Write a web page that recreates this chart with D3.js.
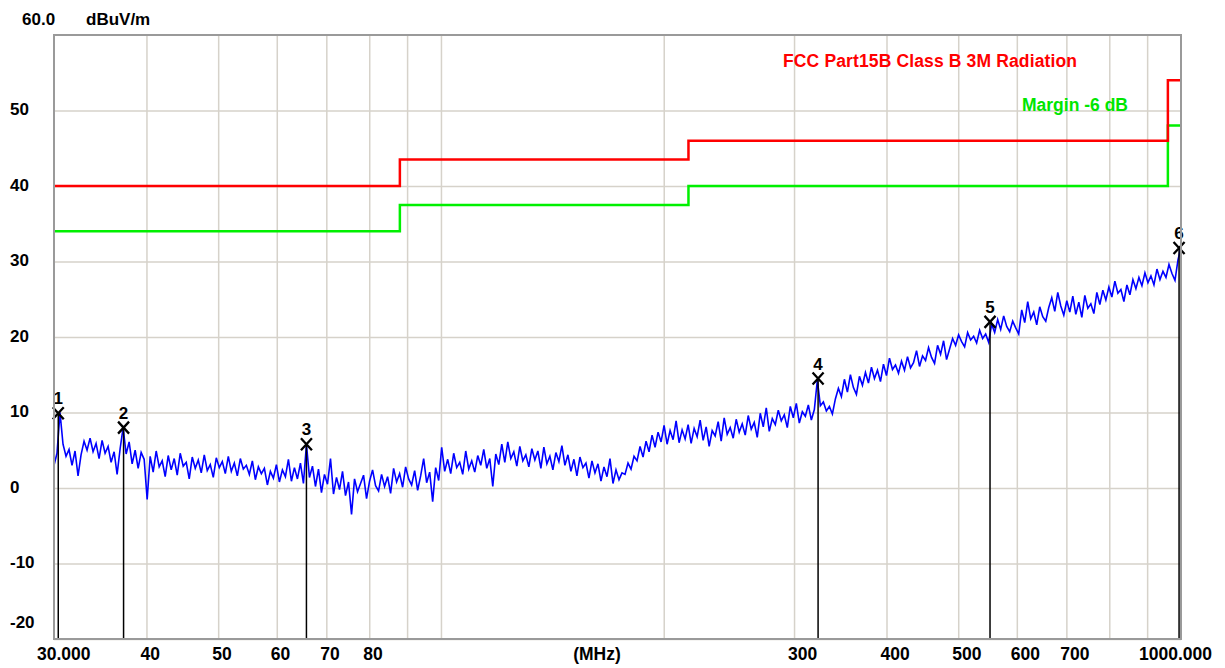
<!DOCTYPE html>
<html>
<head>
<meta charset="utf-8">
<script src="https://cdn.jsdelivr.net/npm/d3@7"></script>
<style>
  html, body { margin: 0; padding: 0; background: #fff; }
  svg { display: block; font-family: "Liberation Sans", Arial, sans-serif; font-weight: bold; }
</style>
</head>
<body>
<script>
"use strict";

// limit lines (FCC Part15B class B, 3 m) - steps start at these frequencies
const limitFreqs = [30, 88, 216, 960, 1000];
const limitLevels = [40, 43.5, 46, 54, 54];
const marginDb = -6;

// y axis ticks
const yTicks = [50, 40, 30, 20, 10, 0, -10, -20];

// x axis grid and labels
const xGrid = [40, 50, 60, 70, 80, 90, 100, 200, 300, 400, 500, 600, 700, 800, 900];
const xLabelValues = [30, 40, 50, 60, 70, 80, 300, 400, 500, 600, 700, 1000];
const xLabelTexts = ["30.000", "40", "50", "60", "70", "80", "300", "400", "500", "600", "700", "1000.000"];

// markers
const markerNames = ["1", "2", "3", "4", "5", "6"];
const markerFreqs = [30.4, 37.25, 65.8, 323.3, 552.0, 994.0];
const markerLevels = [9.9, 8.0, 5.8, 14.5, 22.0, 31.8];

// sweep trace, dBuV/m, points evenly spaced on the log frequency axis 30..1000 MHz
const traceLevels = [
  3.0, 4.6, 10.0, 5.8, 4.2, 5.1, 3.0, 4.9, 1.6, 4.4,
  6.2, 5.0, 6.6, 4.8, 5.9, 3.9, 6.3, 4.6, 5.5, 3.4,
  4.8, 1.8, 5.2, 8.0, 4.5, 6.1, 3.2, 5.0, 2.6, 4.7,
  3.8, -1.5, 4.2, 2.1, 4.9, 2.8, 3.6, 1.5, 4.3, 2.4,
  3.9, 1.7, 4.6, 2.9, 3.4, 1.2, 4.1, 2.6, 3.7, 2.0,
  4.4, 2.3, 3.1, 1.4, 4.0, 2.7, 3.5, 1.9, 4.2, 2.2,
  3.3, 1.6, 3.9, 2.5, 3.0, 1.8, 3.6, 1.1, 2.8, 1.9,
  2.6, 0.4, 2.2, 1.3, 3.1, 0.8, 2.4, 1.5, 3.8, 0.9,
  2.7, 1.2, 3.3, 0.6, 5.8, 1.4, 2.9, 0.2, 2.5, -0.6,
  1.8, 0.5, 3.9, -0.8, 1.4, -0.2, 2.2, -1.0, 0.8, -3.5,
  1.2, -0.5, 0.6, 1.7, -1.4, 0.9, 2.4, 0.3, -0.4, 1.8,
  0.2, 1.5, -0.7, 2.6, 0.8, 1.9, 0.1, 2.8, 1.2, 0.4,
  2.3, -0.3, 1.6, 3.9, 0.7, 2.1, -1.8, 2.7, 1.0, 5.4,
  2.2, 3.8, 1.9, 4.6, 2.7, 3.4, 1.8, 4.9, 2.5, 3.6,
  2.1, 4.3, 3.0, 5.1, 2.6, 3.9, 0.2, 4.5, 3.1, 5.8,
  3.4, 6.1, 3.9, 4.8, 2.9, 5.5, 3.6, 4.4, 2.8, 5.2,
  3.7, 4.9, 2.6, 5.4, 3.2, 4.2, 2.4, 4.7, 3.5, 5.6,
  3.0, 4.4, 2.2, 3.8, 1.6, 4.1, 2.7, 3.3, 1.3, 3.6,
  2.0, 3.2, 0.9, 2.8, 1.5, 3.9, 0.6, 2.4, 1.1, 2.0,
  1.8, 3.3, 2.5, 4.2, 3.6, 5.5, 4.1, 6.2, 4.8, 7.0,
  5.4, 7.4, 6.1, 8.3, 5.8, 7.6, 6.4, 8.9, 6.0, 7.7,
  6.5, 8.4, 5.9, 7.9, 6.8, 9.0, 6.3, 8.1, 5.5, 7.6,
  6.9, 8.8, 6.2, 9.3, 7.1, 8.0, 6.6, 9.1, 7.4, 8.5,
  7.0, 9.6, 7.8, 8.7, 6.7, 9.9, 8.1, 10.6, 7.5, 9.2,
  8.4, 10.3, 8.9, 9.7, 8.0, 10.8, 9.3, 11.2, 8.6, 10.1,
  9.5, 11.0, 9.0, 10.4, 14.3, 10.9, 11.4, 10.2, 10.8, 9.8,
  11.8, 13.2, 12.1, 14.4, 12.7, 15.0, 13.3, 12.4, 14.8, 13.6,
  15.3, 13.9, 16.0, 14.5, 15.6, 14.1, 16.4, 14.9, 17.2, 15.7,
  16.3, 15.2, 16.8, 15.6, 17.4, 15.9, 16.6, 18.2, 16.1, 17.5,
  16.9, 18.6, 17.3, 16.5, 18.9, 17.7, 19.5, 17.0, 18.4, 19.8,
  18.9, 20.3, 19.4, 18.7, 20.6, 19.6, 20.1, 19.2, 20.9, 19.8,
  20.4, 19.3, 21.7, 20.6, 22.3, 21.0, 22.8, 21.4, 20.7, 22.1,
  21.2, 20.4, 23.6, 21.9, 24.7, 22.4, 23.3, 21.6, 24.0, 22.7,
  22.1, 23.9, 25.2, 23.4, 25.9, 24.1, 22.9, 24.8, 23.3, 25.4,
  23.0, 24.6, 22.6, 25.5, 23.8, 24.4, 23.1, 25.9, 24.3, 26.2,
  24.9, 26.6, 25.3, 27.4, 25.8, 26.3, 24.7, 26.9, 25.6, 27.6,
  26.4, 27.9, 26.8, 28.5, 27.2, 28.1, 26.9, 29.0, 27.6, 28.7,
  27.9, 29.6, 28.4, 27.5, 30.2, 31.9
];

(function() {

var width = 1225,
    height = 668,
    pLeft = 54, pRight = 1181, pTop = 35, pBottom = 639;

var x = d3.scaleLog().domain([30, 1000]).range([pLeft, pRight]);
var y = d3.scaleLinear().domain([-20, 60]).range([pBottom, pTop]);

var svg = d3.select("body").append("svg")
    .attr("width", width)
    .attr("height", height);

// grid lines
svg.append("g")
    .attr("transform", "translate(0," + pBottom + ")")
    .call(d3.axisBottom(x).tickValues(xGrid).tickSize(-(pBottom - pTop)).tickFormat(""))
    .call(g => g.select(".domain").remove())
    .selectAll("line").attr("stroke", "#d6d2ca").attr("stroke-width", 1.5);

svg.append("g")
    .attr("transform", "translate(" + pLeft + ",0)")
    .call(d3.axisLeft(y).tickValues(yTicks).tickSize(-(pRight - pLeft)).tickFormat(""))
    .call(g => g.select(".domain").remove())
    .selectAll("line").attr("stroke", "#d6d2ca").attr("stroke-width", 1.5);

// y tick labels, left aligned like the original
svg.append("g").selectAll("text")
    .data(yTicks)
  .enter().append("text")
    .attr("x", 10)
    .attr("y", d => Math.min(y(d) + 4.5, 628))
    .attr("font-size", "17px")
    .attr("fill", "#000")
    .text(d => d);

// x labels
var last = xLabelValues.length - 1;
svg.append("g").selectAll("text")
    .data(xLabelValues)
  .enter().append("text")
    .attr("x", (d, i) => i === 0 ? x(d) - 17 : i === last ? x(d) + 31 : x(d) - 6)
    .attr("y", 660)
    .attr("text-anchor", (d, i) => i === last ? "end" : "start")
    .attr("font-size", "17.5px")
    .attr("fill", "#000")
    .text((d, i) => xLabelTexts[i]);

svg.append("text")
    .attr("x", 597).attr("y", 660)
    .attr("text-anchor", "middle")
    .attr("font-size", "17.5px")
    .text("(MHz)");

// top left unit labels
svg.append("text").attr("x", 22).attr("y", 25).attr("font-size", "17px").text("60.0");
svg.append("text").attr("x", 86).attr("y", 25).attr("font-size", "17px").text("dBuV/m");

// limit + margin lines
var stepLine = d3.line()
    .x(d => x(d[0]))
    .y(d => y(d[1]))
    .curve(d3.curveStepAfter);

var limitPts = limitFreqs.map((f, i) => [f, limitLevels[i]]);
var marginPts = limitFreqs.map((f, i) => [f, limitLevels[i] + marginDb]);

svg.append("path")
    .datum(marginPts)
    .attr("d", stepLine)
    .attr("fill", "none")
    .attr("stroke", "#00f000")
    .attr("stroke-width", 2.5);

svg.append("path")
    .datum(limitPts)
    .attr("d", stepLine)
    .attr("fill", "none")
    .attr("stroke", "#ff0000")
    .attr("stroke-width", 2.5);

svg.append("text")
    .attr("x", 783).attr("y", 67)
    .attr("font-size", "17.5px")
    .attr("fill", "#ff0000")
    .attr("textLength", 294)
    .text("FCC Part15B Class B 3M Radiation");

svg.append("text")
    .attr("x", 1022).attr("y", 111)
    .attr("font-size", "17.5px")
    .attr("fill", "#00e600")
    .attr("textLength", 106)
    .text("Margin -6 dB");

// measured trace
var n = traceLevels.length;
var fdom = x.domain();
var trace = traceLevels.map((v, i) => [fdom[0] * Math.pow(fdom[1] / fdom[0], i / (n - 1)), v]);

svg.append("path")
    .datum(trace)
    .attr("d", d3.line().x(d => x(d[0])).y(d => y(d[1])))
    .attr("fill", "none")
    .attr("stroke", "#0000ff")
    .attr("stroke-width", 1.6);

// markers: vertical drop line, X and number
var markers = markerFreqs.map((f, i) => ({ name: markerNames[i], f: f, v: markerLevels[i] }));

var mg = svg.append("g").selectAll("g")
    .data(markers)
  .enter().append("g")
    .attr("transform", d => "translate(" + x(d.f) + "," + y(d.v) + ")");

mg.append("line")
    .attr("x1", 0).attr("x2", 0)
    .attr("y1", 0).attr("y2", d => pBottom - y(d.v))
    .attr("stroke", "#000").attr("stroke-width", 1.5);

mg.append("path")
    .attr("d", "M-5.5,-6L5.5,6M-5.5,6L5.5,-6")
    .attr("stroke", "#000").attr("stroke-width", 2.3)
    .attr("fill", "none");

mg.append("text")
    .attr("x", 0).attr("y", -9)
    .attr("text-anchor", "middle")
    .attr("font-size", "17px")
    .text(d => d.name);

// plot frame
svg.append("rect")
    .attr("x", pLeft).attr("y", pTop)
    .attr("width", pRight - pLeft).attr("height", pBottom - pTop)
    .attr("fill", "none")
    .attr("stroke", "#9a9a9a")
    .attr("stroke-width", 2);

})();
</script>
</body>
</html>
